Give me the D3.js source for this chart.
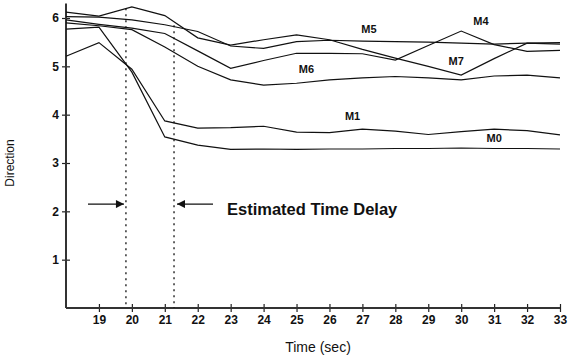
<!DOCTYPE html>
<html>
<head>
<meta charset="utf-8">
<script src="https://cdn.jsdelivr.net/npm/d3@7"></script>
<style>
  body { margin: 0; background: #fff; }
  svg text { font-family: "Liberation Sans", Arial, sans-serif; fill: #111; }
</style>
</head>
<body>
<svg id="chart" width="569" height="358"></svg>
<script>
// sample times (sec)
var times = [18, 19, 20, 21, 22, 23, 24, 25, 26, 27, 28, 29, 30, 31, 32, 33];

// direction per model
var m0 = [5.77, 5.81, 4.88, 3.54, 3.37, 3.28, 3.29, 3.28, 3.29, 3.29, 3.30, 3.30, 3.31, 3.30, 3.30, 3.29];
var m1 = [5.21, 5.49, 4.94, 3.87, 3.72, 3.73, 3.76, 3.64, 3.63, 3.70, 3.66, 3.59, 3.65, 3.70, 3.67, 3.58];
var m4 = [5.96, 5.87, 5.79, 5.68, 5.32, 4.96, 5.12, 5.27, 5.27, 5.26, 5.13, 5.43, 5.73, 5.45, 5.31, 5.33];
var m5 = [6.03, 6.02, 5.96, 5.86, 5.72, 5.42, 5.37, 5.51, 5.54, 5.52, 5.51, 5.50, 5.48, 5.46, 5.48, 5.49];
var m6 = [5.90, 5.84, 5.76, 5.40, 5.00, 4.72, 4.61, 4.65, 4.72, 4.76, 4.79, 4.76, 4.72, 4.80, 4.82, 4.76];
var m7 = [6.12, 6.04, 6.23, 6.05, 5.59, 5.44, 5.55, 5.65, 5.55, 5.35, 5.17, 5.00, 4.82, 5.16, 5.48, 5.46];

var seriesNames = ["M0", "M1", "M4", "M5", "M6", "M7"];
var seriesValues = [m0, m1, m4, m5, m6, m7];
// where each label sits (time, direction)
var labelTimes = [31.0, 26.7, 30.6, 27.2, 25.3, 29.85];
var labelDirs  = [3.50, 3.95, 5.92, 5.75, 4.92, 5.09];

var xTicks = [19, 20, 21, 22, 23, 24, 25, 26, 27, 28, 29, 30, 31, 32, 33];
var yTicks = [1, 2, 3, 4, 5, 6];

// estimated delay markers
var delayTimes = [19.82, 21.28];
var delayText = "Estimated Time Delay";

var svg = d3.select("#chart");

var x = d3.scaleLinear().domain([18, 33]).range([66, 560]);
var y = d3.scaleLinear().domain([0, 6]).range([308, 18]);

//axes
var xAxis = d3.axisBottom(x).tickValues(xTicks).tickSize(4).tickSizeOuter(0).tickFormat(d3.format("d"));
var gx = svg.append("g").attr("transform", "translate(0," + y(0) + ")").call(xAxis);
gx.select(".domain").remove();
gx.selectAll(".tick line").attr("y1", -4).attr("stroke", "#222").attr("stroke-width", 1.2);
gx.selectAll(".tick text")
  .attr("y", 7)
  .style("font-size", "12px").style("font-weight", "bold")
  .style("font-family", "Liberation Sans, Arial, sans-serif");

var yAxis = d3.axisLeft(y).tickValues(yTicks).tickSize(4).tickSizeOuter(0).tickFormat(d3.format("d"));
var gy = svg.append("g").attr("transform", "translate(" + x(18) + ",0)").call(yAxis);
gy.select(".domain").remove();
gy.selectAll(".tick line").attr("x1", 4).attr("stroke", "#222").attr("stroke-width", 1.2);
gy.selectAll(".tick text")
  .attr("x", -7)
  .style("font-size", "12px").style("font-weight", "bold")
  .style("font-family", "Liberation Sans, Arial, sans-serif");

svg.append("line")
  .attr("x1", x(18)).attr("x2", x(33)).attr("y1", y(0)).attr("y2", y(0))
  .attr("stroke", "#333").attr("stroke-width", 2);
svg.append("line")
  .attr("x1", x(18)).attr("x2", x(18)).attr("y1", y(6.3)).attr("y2", y(0))
  .attr("stroke", "#333").attr("stroke-width", 2);

// dotted delay lines
svg.selectAll(".delay")
  .data(delayTimes)
  .enter().append("line")
  .attr("class", "delay")
  .attr("x1", function(d){ return x(d); })
  .attr("x2", function(d){ return x(d); })
  .attr("y1", function(d, i){ return i == 0 ? y(6.2) : y(5.85); })
  .attr("y2", y(0))
  .attr("stroke", "#111").attr("stroke-width", 1.3)
  .attr("stroke-dasharray", "2,4");

// model lines
var line = d3.line()
  .x(function(d, i){ return x(times[i]); })
  .y(function(d){ return y(d); });

svg.selectAll(".model")
  .data(seriesValues)
  .enter().append("path")
  .attr("class", "model")
  .attr("d", line)
  .attr("fill", "none")
  .attr("stroke", "#111")
  .attr("stroke-width", 1.2);

svg.selectAll(".mlabel")
  .data(seriesNames)
  .enter().append("text")
  .attr("class", "mlabel")
  .attr("x", function(d, i){ return x(labelTimes[i]); })
  .attr("y", function(d, i){ return y(labelDirs[i]); })
  .attr("text-anchor", "middle")
  .attr("dominant-baseline", "middle")
  .style("font-size", "11px").style("font-weight", "bold")
  .text(function(d){ return d; });

// arrows
var defs = svg.append("defs");
defs.append("marker")
  .attr("id", "head")
  .attr("viewBox", "0 0 10 10")
  .attr("refX", 10).attr("refY", 5)
  .attr("markerWidth", 10).attr("markerHeight", 8)
  .attr("markerUnits", "userSpaceOnUse")
  .attr("orient", "auto")
  .append("path").attr("d", "M0,0 L10,5 L0,10 z").attr("fill", "#111");

var arrowY = y(2.15);
svg.append("line")
  .attr("x1", 88).attr("x2", x(delayTimes[0]) - 2)
  .attr("y1", arrowY).attr("y2", arrowY)
  .attr("stroke", "#111").attr("stroke-width", 1.3)
  .attr("marker-end", "url(#head)");
svg.append("line")
  .attr("x1", 213).attr("x2", x(delayTimes[1]) + 3)
  .attr("y1", arrowY).attr("y2", arrowY)
  .attr("stroke", "#111").attr("stroke-width", 1.3)
  .attr("marker-end", "url(#head)");

svg.append("text")
  .attr("x", 227).attr("y", arrowY + 11)
  .style("font-size", "16.5px").style("font-weight", "bold")
  .text(delayText);

// axis titles
svg.append("text")
  .attr("transform", "translate(14," + y(3) + ") rotate(-90)")
  .attr("text-anchor", "middle")
  .style("font-size", "12px")
  .text("Direction");
svg.append("text")
  .attr("x", 318).attr("y", 352)
  .attr("text-anchor", "middle")
  .style("font-size", "14px")
  .text("Time (sec)");
</script>
</body>
</html>
